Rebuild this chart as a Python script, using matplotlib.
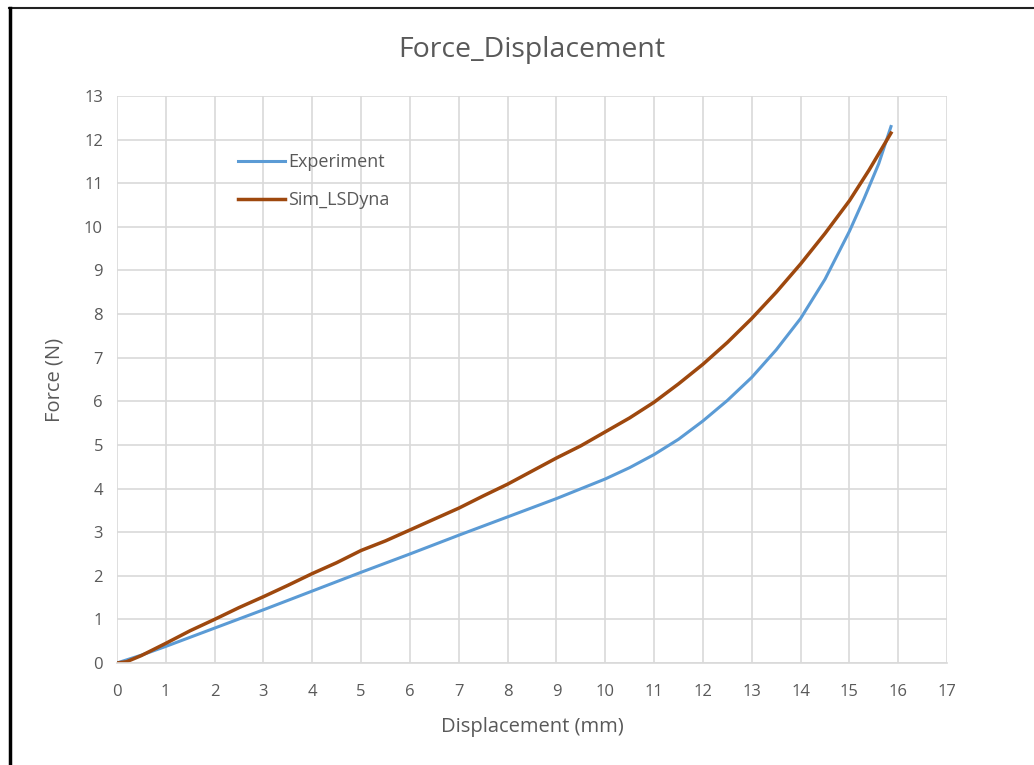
import matplotlib.pyplot as plt
from matplotlib.lines import Line2D

plt.rcParams['font.family'] = ['Open Sans', 'DejaVu Sans']

# experiment curve
exp_x = [0, 0.5, 1, 2, 3, 4, 5, 6, 7, 8, 9, 10, 10.5, 11, 11.5, 12, 12.5, 13,
         13.5, 14, 14.5, 15, 15.3, 15.6, 15.85]
exp_y = [0, 0.18, 0.38, 0.8, 1.22, 1.65, 2.08, 2.5, 2.93, 3.35, 3.77, 4.22,
         4.48, 4.78, 5.13, 5.55, 6.02, 6.55, 7.18, 7.9, 8.8, 9.9, 10.65, 11.45, 12.3]

# LS-Dyna simulation curve
sim_x = [0, 0.2, 0.5, 1, 1.5, 2, 2.5, 3, 3.5, 4, 4.5, 5, 5.5, 6, 6.5, 7, 7.5, 8,
         8.5, 9, 9.5, 10, 10.5, 11, 11.5, 12, 12.5, 13, 13.5, 14, 14.5, 15,
         15.4, 15.85]
sim_y = [0, 0.03, 0.17, 0.45, 0.74, 1.0, 1.27, 1.52, 1.78, 2.05, 2.3, 2.58,
         2.8, 3.05, 3.3, 3.55, 3.83, 4.1, 4.4, 4.7, 4.98, 5.3, 5.62, 5.98,
         6.4, 6.85, 7.35, 7.9, 8.5, 9.15, 9.85, 10.6, 11.3, 12.15]

fig = plt.figure(figsize=(10.34, 7.65), dpi=100)
ax = fig.add_axes([0.113, 0.1333, 0.803, 0.7412])

ax.plot(exp_x, exp_y, color="#5b9bd5", lw=2.2, label="Experiment")
ax.plot(sim_x, sim_y, color="#9e480e", lw=2.5, label="Sim_LSDyna")

ax.set_xlim(0, 17)
ax.set_ylim(0, 13)
ax.set_xticks(range(0, 18))
ax.set_yticks(range(0, 14))
ax.grid(True, color="#d9d9d9", lw=1.2)
ax.set_axisbelow(True)
for s in ["top", "right", "left"]:
    ax.spines[s].set_visible(False)
ax.spines["bottom"].set_color("#d9d9d9")
ax.spines["bottom"].set_linewidth(1.2)
ax.tick_params(length=0, colors="#595959", labelsize=12)
ax.tick_params(axis="x", pad=15)
ax.tick_params(axis="y", pad=10)

ax.set_title("Force_Displacement", fontsize=20.5, color="#595959", pad=28)
ax.set_xlabel("Displacement (mm)", fontsize=14.5, color="#595959", labelpad=12)
ax.set_ylabel("Force (N)", fontsize=14.5, color="#595959", labelpad=14)

ax.legend(loc="upper left", bbox_to_anchor=(0.135, 0.915), frameon=False,
          borderpad=0, fontsize=13, labelcolor="#595959", handlelength=2.6,
          handletextpad=0.2, labelspacing=1.1)

# outer frame of the screenshot
fig.add_artist(Line2D([9 / 1034, 1], [1 - 8 / 765, 1 - 8 / 765], color="#222222",
                      lw=1.5, transform=fig.transFigure))
fig.add_artist(Line2D([10 / 1034, 10 / 1034], [0, 1 - 8 / 765], color="black",
                      lw=2.5, transform=fig.transFigure))

fig.savefig("out.png", dpi=100)
